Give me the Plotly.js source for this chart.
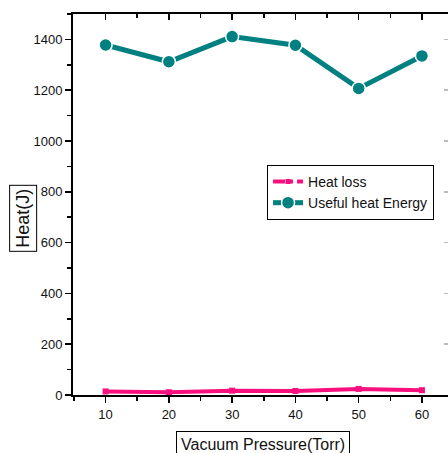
<!DOCTYPE html>
<html>
<head>
<meta charset="utf-8">
<script src="https://cdn.plot.ly/plotly-3.0.1.min.js"></script>
<style>html,body{margin:0;padding:0;overflow:hidden;background:#fff;}#chart{width:455px;height:453px;}</style>
</head>
<body>
<div id="chart"></div>
<script>
var pressure = [10, 20, 30, 40, 50, 60];
var heatLoss = [14, 11, 17, 16, 24, 19];
var usefulHeat = [1378, 1312, 1411, 1377, 1207, 1335];
var seriesNames = ["Heat loss", "Useful heat Energy"];
var xTitle = "Vacuum Pressure(Torr)";
var yTitle = "Heat(J)";

var pink = "#f8107e";
var teal = "#008080";

var traces = [
  {x: pressure, y: heatLoss, type: "scatter", mode: "lines+markers", name: seriesNames[0], showlegend: false,
   line: {color: pink, width: 4}, marker: {symbol: "square", size: 6, color: pink}},
  {x: [null], y: [null], type: "scatter", mode: "lines+markers", name: seriesNames[0],
   line: {color: pink, width: 4, dash: "dashdot"}, marker: {symbol: "square", size: 5, color: pink}},
  {x: pressure, y: usefulHeat, type: "scatter", mode: "lines+markers", name: seriesNames[1],
   line: {color: teal, width: 5}, marker: {symbol: "circle", size: 13, color: teal, line: {color: "#fff", width: 1.5}}},
  {x: [null], y: [null], xaxis: "x2", yaxis: "y2", type: "scatter", mode: "markers", showlegend: false, hoverinfo: "skip"}
];

var axFont = {family: "Liberation Sans, Arial, sans-serif", size: 13, color: "#111"};
var xr = [4.85, 64.75];
var yr = [0, 1500];

var layout = {
  width: 455, height: 453,
  margin: {l: 73, r: 3, t: 14, b: 58},
  paper_bgcolor: "#fff", plot_bgcolor: "#fff",
  showlegend: true,
  legend: {x: 0.512, y: 0.604, xanchor: "left", yanchor: "top", bgcolor: "#fff", bordercolor: "#000", borderwidth: 1,
           font: {family: "Liberation Sans, Arial, sans-serif", size: 14, color: "#111"}, tracegroupgap: 0},
  xaxis: {range: xr, showgrid: false, zeroline: false, showline: true, linecolor: "#000", linewidth: 2,
          ticks: "outside", ticklen: 6, tickwidth: 1.5, tickcolor: "#000", tick0: 0, dtick: 10,
          minor: {ticks: "outside", ticklen: 4, tickwidth: 1.5, tickcolor: "#000", tick0: 5, dtick: 10},
          tickfont: axFont},
  xaxis2: {range: xr, overlaying: "x", side: "top", anchor: "y2", showgrid: false, zeroline: false, showline: true, linecolor: "#000", linewidth: 2,
           ticks: "inside", ticklen: 6, tickwidth: 1.5, tickcolor: "#000", tick0: 0, dtick: 10, showticklabels: false,
           minor: {ticks: "inside", ticklen: 4, tickwidth: 1.5, tickcolor: "#000", tick0: 5, dtick: 10}},
  yaxis: {range: yr, showgrid: false, zeroline: false, showline: true, linecolor: "#000", linewidth: 2,
          ticks: "outside", ticklen: 6, tickwidth: 1.5, tickcolor: "#000", tick0: 0, dtick: 200,
          minor: {ticks: "outside", ticklen: 4, tickwidth: 1.5, tickcolor: "#000", dtick: 100},
          tickfont: axFont},
  yaxis2: {range: yr, overlaying: "y", side: "right", anchor: "x2", showgrid: false, zeroline: false, showline: true, linecolor: "#000", linewidth: 2,
           ticks: "inside", ticklen: 8, tickwidth: 1.5, tickcolor: "#bbb", tick0: 0, dtick: 200, showticklabels: false},
  annotations: [
    {text: yTitle, xref: "paper", yref: "paper", x: -0.132, y: 0.465, xanchor: "center", yanchor: "middle", textangle: -90, showarrow: false,
     font: {family: "Liberation Sans, Arial, sans-serif", size: 18, color: "#111"}, bordercolor: "#000", borderwidth: 1, borderpad: 3, bgcolor: "#fff"},
    {text: xTitle, xref: "paper", yref: "paper", x: 0.5, y: -0.095, xanchor: "center", yanchor: "top", showarrow: false,
     font: {family: "Liberation Sans, Arial, sans-serif", size: 16, color: "#111"}, bordercolor: "#000", borderwidth: 1, borderpad: 4, bgcolor: "#fff"}
  ]
};

Plotly.newPlot("chart", traces, layout, {displayModeBar: false, staticPlot: true});
</script>
</body>
</html>
